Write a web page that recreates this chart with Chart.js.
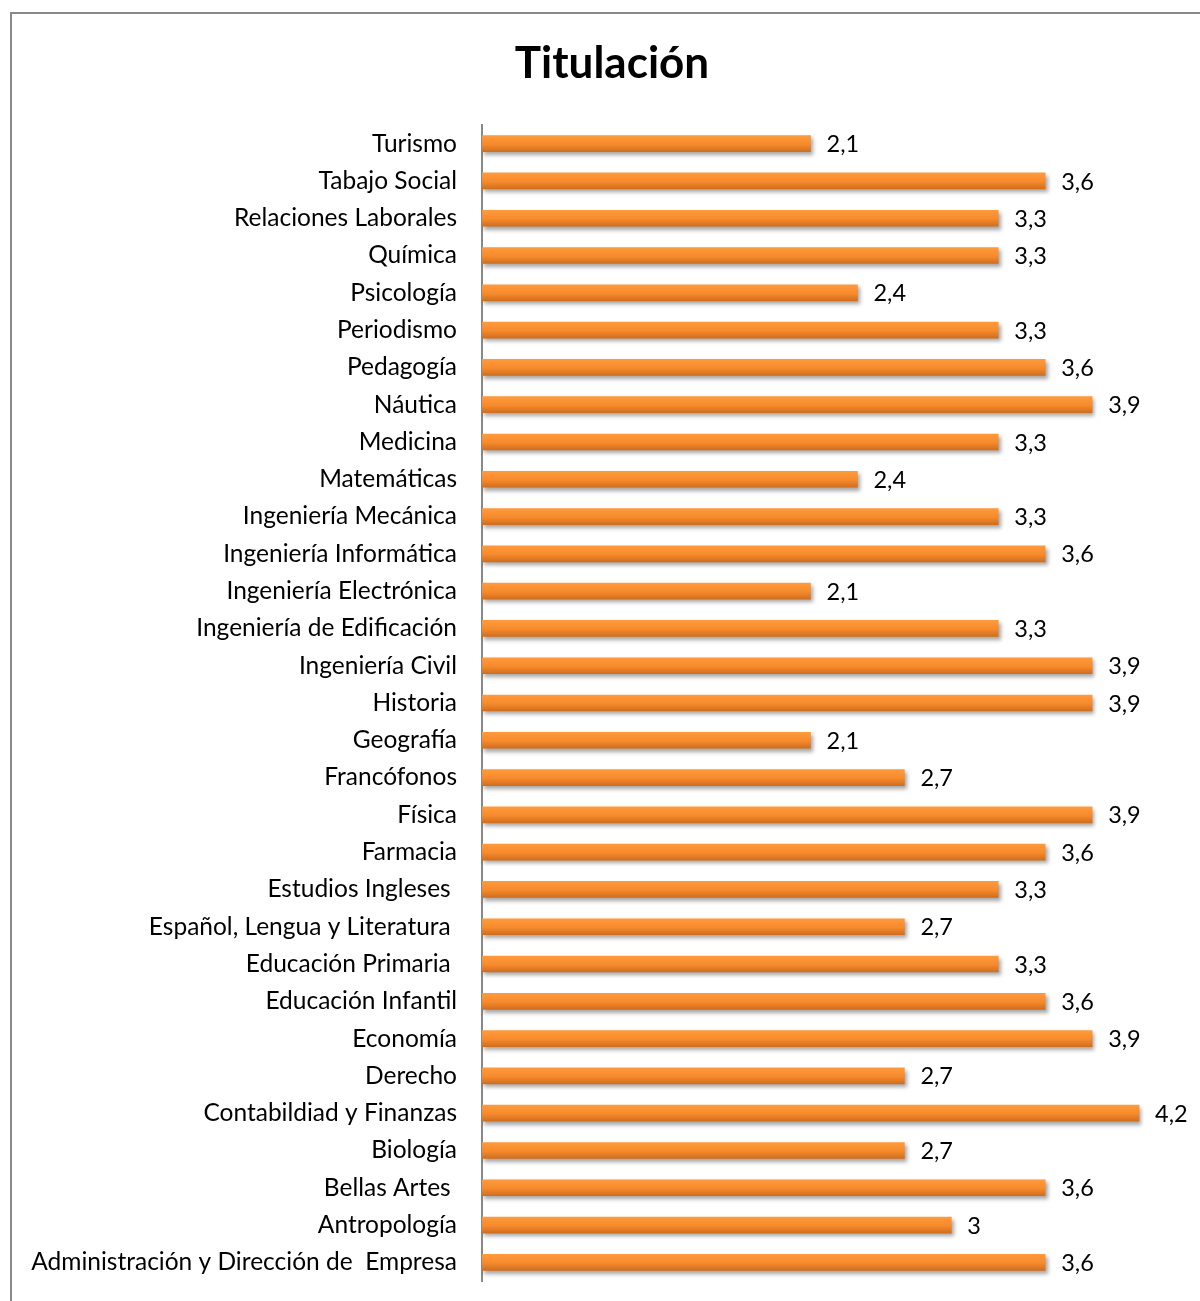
<!DOCTYPE html>
<html>
<head>
<meta charset="utf-8">
<script src="https://cdn.jsdelivr.net/npm/chart.js@4.4.1/dist/chart.umd.min.js"></script>
<style>
  html, body { margin: 0; padding: 0; background: #fff; overflow: hidden; }
  #wrap { position: absolute; left: 0; top: 0; width: 1200px; height: 1301px; }
  #frame { position: absolute; left: 10px; top: 12px; width: 1300px; height: 1400px;
           border: 2px solid #888; pointer-events: none; }
</style>
</head>
<body>
<div id="wrap"><canvas id="chart" width="1200" height="1301"></canvas></div>
<div id="frame"></div>
<script>
const chartTitle = "Titulación";
const categories = [
    "Turismo", "Tabajo Social", "Relaciones Laborales", "Química", "Psicología",
    "Periodismo", "Pedagogía", "Náutica", "Medicina", "Matemáticas",
    "Ingeniería Mecánica", "Ingeniería Informática", "Ingeniería Electrónica",
    "Ingeniería de Edificación", "Ingeniería Civil", "Historia", "Geografía",
    "Francófonos", "Física", "Farmacia", "Estudios Ingleses ",
    "Español, Lengua y Literatura ", "Educación Primaria ", "Educación Infantil",
    "Economía", "Derecho", "Contabildiad y Finanzas", "Biología", "Bellas Artes ",
    "Antropología", "Administración y Dirección de  Empresa"
];
const values = [
    2.1, 3.6, 3.3, 3.3, 2.4,
    3.3, 3.6, 3.9, 3.3, 2.4,
    3.3, 3.6, 2.1,
    3.3, 3.9, 3.9, 2.1,
    2.7, 3.9, 3.6, 3.3,
    2.7, 3.3, 3.6,
    3.9, 2.7, 4.2, 2.7, 3.6,
    3, 3.6
];
const xMin = 0;
const xMax = 4.5;

const fontFamily = "Lato, 'Open Sans', sans-serif";

// gradient per bar, lighter on top, darker at the bottom
function barFill(ctx) {
    const chart = ctx.chart;
    const y = chart.scales && chart.scales.y;
    if (!y || ctx.type !== "data") return "#F58A2E";
    const py = y.getPixelForValue(ctx.dataIndex);
    if (!isFinite(py)) return "#F58A2E";
    const g = chart.ctx.createLinearGradient(0, py - 8, 0, py + 8);
    g.addColorStop(0, "#FF9A3C");
    g.addColorStop(0.55, "#F68A2C");
    g.addColorStop(1, "#D06E1E");
    return g;
}

const shadowPlugin = {
    id: "barShadow",
    beforeDatasetDraw(chart) {
        const c = chart.ctx;
        c.save();
        c.shadowColor = "rgba(0,0,0,0.35)";
        c.shadowBlur = 4;
        c.shadowOffsetX = 2;
        c.shadowOffsetY = 3;
    },
    afterDatasetDraw(chart) {
        chart.ctx.restore();
    }
};

// title centred over the framed area, not over the canvas
const titlePlugin = {
    id: "titleText",
    afterDraw(chart) {
        const c = chart.ctx;
        c.save();
        c.font = "bold 44px " + fontFamily;
        c.fillStyle = "#000";
        c.textAlign = "center";
        c.textBaseline = "middle";
        c.fillText(chartTitle, 612, 64);
        c.restore();
    }
};

const valueLabels = {
    id: "valueLabels",
    afterDatasetsDraw(chart) {
        const c = chart.ctx;
        const meta = chart.getDatasetMeta(0);
        c.save();
        c.font = "23.5px " + fontFamily;
        c.fillStyle = "#000";
        c.textAlign = "left";
        c.textBaseline = "middle";
        meta.data.forEach((bar, i) => {
            const txt = String(values[i]).replace(".", ",");
            c.fillText(txt, bar.x + 16, bar.y + 1);
        });
        c.restore();
    }
};

new Chart(document.getElementById("chart").getContext("2d"), {
    type: "bar",
    data: {
        labels: categories,
        datasets: [{
            data: values,
            backgroundColor: barFill,
            borderWidth: 0,
            barThickness: 16
        }]
    },
    options: {
        indexAxis: "y",
        responsive: false,
        animation: false,
        layout: { padding: { left: 10, right: 14, top: 125, bottom: 20 } },
        plugins: {
            legend: { display: false },
            tooltip: { enabled: false },
            title: { display: false }
        },
        scales: {
            x: {
                display: false,
                min: xMin,
                max: xMax
            },
            y: {
                grid: { display: false, drawTicks: false },
                border: { display: true, color: "#888", width: 2 },
                ticks: {
                    color: "#000",
                    padding: 25,
                    autoSkip: false,
                    font: { family: fontFamily, size: 24.5 }
                },
                afterFit(scale) {
                    scale.width = 472;
                    scale.paddingTop = 0;
                    scale.paddingBottom = 0;
                }
            }
        }
    },
    plugins: [shadowPlugin, valueLabels, titlePlugin]
});
</script>
</body>
</html>
